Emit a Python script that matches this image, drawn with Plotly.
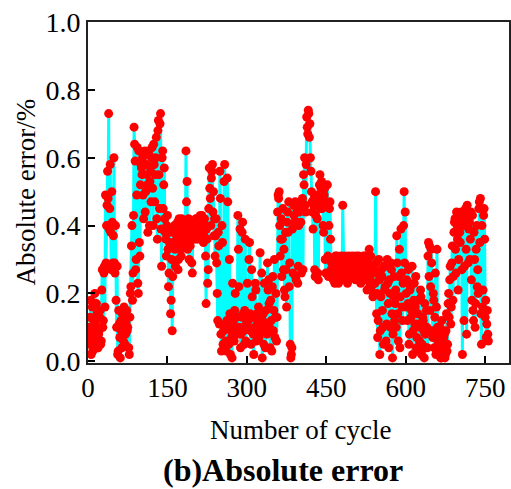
import plotly.graph_objects as go

# Absolute error (%), odd cycles 1,3,...,755
odd_00_100 = [0.10,0.05,0.18,0.08,0.03,0.12,0.20,0.07,0.14,0.04,
              0.09,0.15,0.06,0.27,0.12,0.28,0.49,0.40,0.56,0.73,
              0.45,0.38,0.50,0.29,0.60,0.26,0.18,0.28,0.03,0.11,
              0.01,0.09,0.14,0.06,0.12,0.08,0.15,0.10,0.04,0.13,
              0.22,0.40,0.26,0.69,0.59,0.30,0.63,0.20,0.35,0.52]
odd_100_200 = [0.57,0.60,0.42,0.62,0.50,0.55,0.38,0.61,0.53,0.47,
               0.63,0.40,0.58,0.55,0.66,0.36,0.71,0.45,0.73,0.28,
               0.62,0.52,0.42,0.36,0.40,0.33,0.26,0.38,0.18,0.09,
               0.35,0.40,0.28,0.37,0.41,0.30,0.39,0.33,0.42,0.38,
               0.36,0.40,0.62,0.53,0.38,0.30,0.34,0.41,0.26,0.37]
odd_200_300 = [0.40,0.38,0.42,0.36,0.40,0.41,0.39,0.43,0.40,0.37,
               0.40,0.17,0.36,0.27,0.57,0.48,0.54,0.58,0.50,0.42,
               0.37,0.29,0.12,0.34,0.56,0.08,0.40,0.05,0.53,0.10,
               0.03,0.54,0.10,0.30,0.02,0.07,0.23,0.12,0.15,0.09,
               0.13,0.43,0.22,0.39,0.08,0.38,0.14,0.05,0.36,0.11]
odd_300_400 = [0.23,0.12,0.35,0.09,0.27,0.13,0.02,0.10,0.21,0.14,
               0.12,0.07,0.32,0.10,0.01,0.14,0.23,0.04,0.11,0.29,
               0.24,0.10,0.18,0.03,0.25,0.15,0.07,0.20,0.13,0.49,
               0.50,0.31,0.42,0.36,0.27,0.21,0.38,0.16,0.44,0.47,
               0.29,0.01,0.04,0.26,0.43,0.47,0.24,0.41,0.28,0.44]
odd_400_500 = [0.45,0.26,0.48,0.55,0.60,0.44,0.72,0.67,0.73,0.70,
               0.56,0.47,0.39,0.48,0.25,0.46,0.42,0.24,0.52,0.45,
               0.53,0.48,0.38,0.51,0.26,0.46,0.31,0.40,0.47,0.27,
               0.30,0.24,0.28,0.31,0.26,0.29,0.23,0.30,0.27,0.25,
               0.46,0.27,0.31,0.26,0.29,0.24,0.30,0.28,0.25,0.31]
odd_500_600 = [0.27,0.30,0.24,0.29,0.26,0.31,0.28,0.23,0.30,0.27,
               0.29,0.31,0.26,0.21,0.30,0.33,0.24,0.22,0.28,0.20,
               0.26,0.50,0.14,0.07,0.30,0.02,0.19,0.25,0.10,0.28,
               0.22,0.06,0.30,0.17,0.24,0.10,0.27,0.01,0.19,0.12,
               0.21,0.37,0.14,0.25,0.04,0.39,0.16,0.23,0.50,0.44]
odd_600_700 = [0.20,0.12,0.27,0.08,0.22,0.15,0.02,0.18,0.11,0.25,
               0.07,0.14,0.03,0.10,0.19,0.05,0.12,0.01,0.08,0.15,
               0.04,0.35,0.34,0.22,0.29,0.07,0.18,0.13,0.02,0.33,
               0.06,0.02,0.10,0.01,0.05,0.03,0.08,0.02,0.14,0.05,
               0.20,0.24,0.11,0.29,0.18,0.38,0.42,0.26,0.40,0.21]
odd_700_756 = [0.43,0.35,0.44,0.02,0.41,0.28,0.45,0.08,0.42,0.39,
               0.30,0.44,0.18,0.15,0.38,0.10,0.33,0.22,0.20,0.47,
               0.48,0.05,0.16,0.43,0.36,0.18,0.11,0.08]

# even cycles 2,4,...,756
even_00_100 = [0.06,0.13,0.02,0.16,0.09,0.05,0.11,0.17,0.04,0.08,
               0.13,0.05,0.21,0.10,0.26,0.16,0.29,0.46,0.48,0.39,
               0.58,0.27,0.41,0.37,0.29,0.40,0.10,0.02,0.15,0.07,
               0.12,0.04,0.10,0.16,0.05,0.11,0.09,0.13,0.02,0.20,
               0.34,0.18,0.43,0.64,0.27,0.49,0.23,0.62,0.31,0.58]
even_100_200 = [0.55,0.49,0.61,0.44,0.58,0.52,0.62,0.40,0.56,0.60,
                0.51,0.64,0.47,0.60,0.42,0.68,0.55,0.70,0.39,0.60,
                0.45,0.57,0.38,0.31,0.43,0.22,0.35,0.14,0.30,0.25,
                0.38,0.33,0.40,0.34,0.27,0.42,0.36,0.31,0.40,0.35,
                0.41,0.39,0.47,0.33,0.42,0.36,0.39,0.29,0.40,0.38]
even_200_300 = [0.36,0.42,0.39,0.41,0.37,0.43,0.38,0.40,0.35,0.42,
                0.31,0.39,0.23,0.45,0.51,0.40,0.56,0.44,0.37,0.31,
                0.42,0.20,0.38,0.11,0.48,0.03,0.35,0.09,0.58,0.06,
                0.12,0.47,0.05,0.14,0.09,0.01,0.11,0.06,0.20,0.13,
                0.08,0.33,0.10,0.04,0.13,0.41,0.09,0.15,0.06,0.12]
even_300_400 = [0.10,0.30,0.14,0.05,0.19,0.08,0.13,0.23,0.06,0.11,
                0.16,0.13,0.09,0.26,0.12,0.05,0.10,0.15,0.08,0.21,
                0.17,0.04,0.12,0.22,0.09,0.30,0.13,0.06,0.44,0.48,
                0.40,0.36,0.25,0.45,0.33,0.19,0.27,0.41,0.38,0.22,
                0.05,0.02,0.39,0.46,0.41,0.25,0.45,0.23,0.40,0.47]
even_400_500 = [0.41,0.47,0.27,0.52,0.46,0.58,0.69,0.74,0.66,0.60,
                0.50,0.44,0.46,0.27,0.43,0.49,0.26,0.47,0.55,0.51,
                0.45,0.40,0.49,0.30,0.47,0.52,0.25,0.45,0.36,0.29,
                0.26,0.30,0.23,0.28,0.31,0.25,0.29,0.27,0.31,0.24,
                0.28,0.30,0.26,0.29,0.23,0.31,0.27,0.25,0.30,0.26]
even_500_600 = [0.29,0.25,0.31,0.27,0.24,0.30,0.26,0.29,0.25,0.31,
                0.27,0.24,0.30,0.28,0.25,0.22,0.31,0.26,0.19,0.27,
                0.23,0.29,0.20,0.12,0.24,0.09,0.27,0.15,0.05,0.21,
                0.28,0.11,0.23,0.04,0.20,0.29,0.14,0.08,0.25,0.17,
                0.10,0.29,0.06,0.33,0.19,0.26,0.12,0.40,0.29,0.16]
even_600_700 = [0.24,0.17,0.05,0.21,0.13,0.28,0.09,0.23,0.16,0.04,
                0.11,0.18,0.06,0.21,0.02,0.13,0.09,0.17,0.04,0.10,
                0.31,0.25,0.15,0.33,0.09,0.20,0.04,0.26,0.16,0.10,
                0.03,0.08,0.01,0.12,0.04,0.07,0.01,0.09,0.03,0.17,
                0.13,0.28,0.16,0.34,0.25,0.41,0.33,0.44,0.36,0.30]
even_700_756 = [0.38,0.42,0.27,0.40,0.12,0.44,0.33,0.46,0.29,0.41,
                0.36,0.24,0.43,0.12,0.30,0.17,0.40,0.27,0.45,0.35,
                0.14,0.40,0.21,0.45,0.13,0.07,0.15,0.06]

odd_err = (odd_00_100 + odd_100_200 + odd_200_300 + odd_300_400 +
           odd_400_500 + odd_500_600 + odd_600_700 + odd_700_756)
even_err = (even_00_100 + even_100_200 + even_200_300 + even_300_400 +
            even_400_500 + even_500_600 + even_600_700 + even_700_756)

cycles = []
abs_error = []
for i, (a, b) in enumerate(zip(odd_err, even_err)):
    cycles += [2 * i + 1, 2 * i + 2]
    abs_error += [a, b]

x_ticks = [0, 150, 300, 450, 600, 750]
y_ticks = [0.0, 0.2, 0.4, 0.6, 0.8, 1.0]
y_tick_text = ["0.0", "0.2", "0.4", "0.6", "0.8", "1.0"]

FONT = "Liberation Serif"

fig = go.Figure()
fig.add_trace(go.Scatter(
    x=cycles, y=abs_error, mode="lines+markers",
    line=dict(color="#00FFFF", width=3),
    marker=dict(color="#FF0000", size=9, line=dict(width=0)),
    showlegend=False,
))

fig.update_layout(
    width=511, height=489,
    margin=dict(l=88, r=0, t=22, b=126),
    paper_bgcolor="white", plot_bgcolor="white",
    font=dict(family=FONT, color="black"),
    xaxis=dict(range=[0, 795], tickvals=x_ticks, ticks="inside", ticklen=7,
               tickwidth=1.5, tickcolor="black", showline=True, linecolor="#222",
               linewidth=2, mirror=True, showgrid=False, zeroline=False,
               tickfont=dict(family=FONT, size=27, color="black")),
    yaxis=dict(range=[-0.005, 1.0], tickvals=y_ticks, ticktext=y_tick_text,
               ticks="inside", ticklen=7, tickwidth=1.5, tickcolor="black",
               showline=True, linecolor="#222", linewidth=2, mirror=True,
               showgrid=False, zeroline=False,
               tickfont=dict(family=FONT, size=28, color="black")),
    annotations=[
        dict(text="Absolute error/%", xref="paper", yref="paper", x=0, y=0.5,
             xanchor="center", yanchor="middle", xshift=-63, textangle=-90,
             showarrow=False, font=dict(family=FONT, size=27, color="black")),
        dict(text="Number of cycle", xref="paper", yref="paper", x=0, y=0,
             xanchor="center", yanchor="middle", xshift=212, yshift=-67,
             showarrow=False, font=dict(family=FONT, size=27, color="black")),
        dict(text="<b>(b)Absolute error</b>", xref="paper", yref="paper", x=0, y=0,
             xanchor="center", yanchor="middle", xshift=195, yshift=-107,
             showarrow=False, font=dict(family=FONT, size=32, color="black")),
    ],
)

fig.write_html("out.html")
